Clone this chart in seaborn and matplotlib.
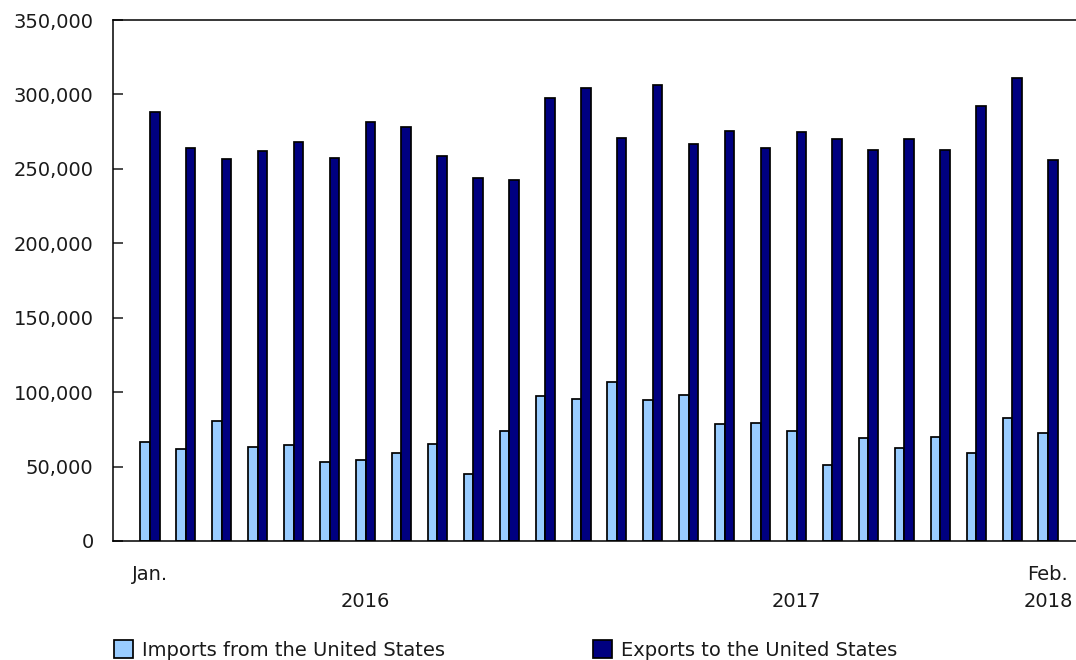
import pandas as pd
import seaborn as sns
import matplotlib.pyplot as plt
from matplotlib.patches import Patch
from matplotlib.ticker import FuncFormatter

# ==========================================
# 1. DATA
# ==========================================
months = ['2016-01', '2016-02', '2016-03', '2016-04', '2016-05', '2016-06',
          '2016-07', '2016-08', '2016-09', '2016-10', '2016-11', '2016-12',
          '2017-01', '2017-02', '2017-03', '2017-04', '2017-05', '2017-06',
          '2017-07', '2017-08', '2017-09', '2017-10', '2017-11', '2017-12',
          '2018-01', '2018-02']

imports_us = [66200, 61500, 80300, 63300, 64800, 53200, 54100, 58800, 65300,
              45300, 74000, 97100, 95300, 106800, 94700, 98000, 78900, 79200,
              73600, 51100, 69500, 62800, 70200, 59000, 82600, 72500]

exports_us = [288200, 263800, 256700, 262300, 268200, 257100, 281500, 278100,
              258600, 244100, 242700, 297400, 304600, 270500, 306600, 266900,
              275400, 264200, 274800, 270300, 262400, 270300, 262900, 292100,
              310900, 256200]

series_names = ['Imports from the United States', 'Exports to the United States']
series_colors = ['#99CCFF', '#000080']

# x tick labels: month on first line, year on second line
tick_labels = {0: 'Jan.', 6: '\n2016', 18: '\n2017', 25: 'Feb.\n2018'}

df = pd.DataFrame({'month': months, series_names[0]: imports_us,
                   series_names[1]: exports_us})
df_long = df.melt(id_vars='month', var_name='series', value_name='value')

# ==========================================
# 2. PLOT
# ==========================================
sns.set_style('white')
plt.rcParams['font.family'] = ['DejaVu Sans']

fig = plt.figure(figsize=(10.76, 6.6), dpi=100)
ax = fig.add_axes([113 / 1076, 1 - 541 / 660, 1 - 113 / 1076, (541 - 20) / 660])

sns.barplot(data=df_long, x='month', y='value', hue='series', order=months,
            hue_order=series_names, palette=series_colors, width=0.53,
            edgecolor='black', linewidth=1.25, saturation=1, legend=False, ax=ax)

ax.set_ylim(0, 350000)
ax.set_xlim(-1.03, 25.78)
ax.set_yticks(range(0, 350001, 50000))
ax.yaxis.set_major_formatter(FuncFormatter(lambda v, p: f'{int(v):,}'))
ax.tick_params(axis='y', direction='in', length=7.5, width=1.1, pad=14,
               labelsize=14, colors='#1a1a1a', left=True)

ax.set_xticks(range(len(months)))
ax.set_xticklabels([tick_labels.get(i, '') for i in range(len(months))],
                   fontsize=14, linespacing=1.55, color='#1a1a1a')
ax.tick_params(axis='x', length=0, pad=17)

ax.set_xlabel('')
ax.set_ylabel('')
for side in ['left', 'bottom', 'top']:
    ax.spines[side].set_linewidth(1.1)
    ax.spines[side].set_color('black')
ax.spines['right'].set_visible(False)

# Legend below the chart
handles = [Patch(facecolor=c, edgecolor='black', linewidth=1.25) for c in series_colors]
leg = fig.legend(handles, series_names, loc='center left',
                 bbox_to_anchor=(106 / 1076, 1 - 650 / 660), ncol=2, frameon=False,
                 fontsize=14, handlelength=1.0, handleheight=1.0, handletextpad=0.45,
                 columnspacing=7.6, borderaxespad=0)
for t in leg.get_texts():
    t.set_color('#1a1a1a')

fig.savefig('out.png', dpi=100)
